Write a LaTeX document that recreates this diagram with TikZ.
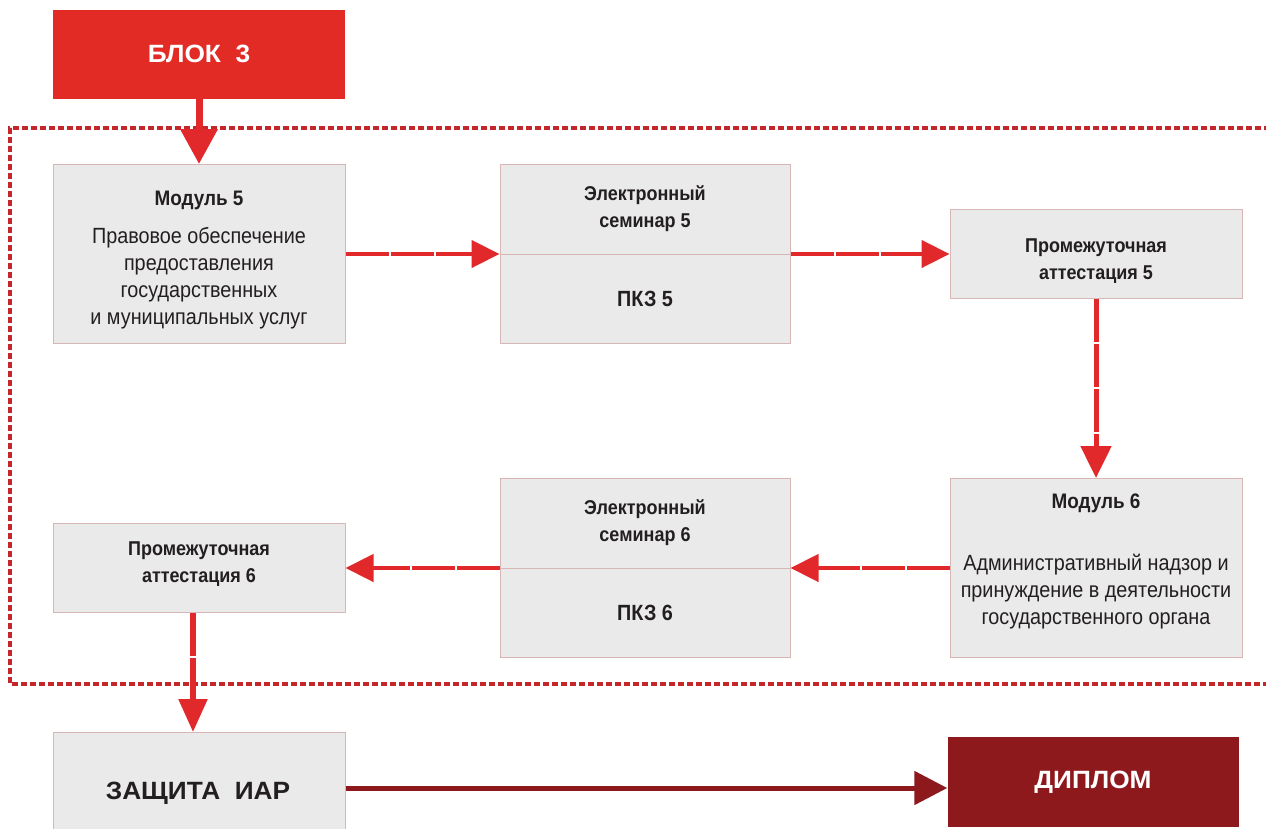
\documentclass[tikz,border=0pt]{standalone}
\usepackage{fontspec}
\setmainfont{Liberation Sans}[FakeStretch=0.9]
\newfontfamily\widefont{Liberation Sans}[FakeStretch=1.05]
\usetikzlibrary{positioning,arrows.meta}
\definecolor{blokred}{HTML}{E32B26}
\definecolor{arrred}{HTML}{E1282A}
\definecolor{framered}{HTML}{C4262A}
\definecolor{dipred}{HTML}{8E191D}
\definecolor{boxgray}{HTML}{EAEAEA}
\definecolor{boxline}{HTML}{D9B6B6}
\definecolor{txt}{HTML}{231F20}

\begin{document}
\begin{tikzpicture}[x=1pt,y=-1pt]
  \tikzstyle{box}=[rectangle, fill=boxgray, draw=boxline, line width=1pt, minimum width=292pt, minimum height=179pt, inner sep=0pt, text=txt, align=center]
  \tikzstyle{esbox}=[box, minimum width=290pt]
  \tikzstyle{smallbox}=[box, minimum height=89pt]
  \tikzstyle{redbox}=[rectangle, minimum width=292pt, minimum height=89pt, text=white, font=\widefont\fontsize{25}{28}\selectfont\bfseries]
  \tikzstyle{ttl}=[font=\fontsize{20}{27}\selectfont\bfseries, text=txt, align=center]
  \tikzstyle{connect}=[-{Triangle[length=28pt,width=27pt]}, line width=4.5pt, draw=arrred, dash pattern=on 43pt off 2pt]
  \tikzstyle{frame}=[draw=framered, line width=3.2pt, dash pattern=on 6pt off 3pt]
  \useasboundingbox (0,0) rectangle (1266,828);
  \fill[white] (0,0) rectangle (1266,828);
  \draw[frame] (1270,128) -- (10,128) -- (10,684) -- (1270,684);
    \node[box] (mod5) at (199,254) {};
    \node[esbox] (es5) [right=154pt of mod5] {};
    \node[smallbox] (pa5) [right=159pt of es5] {};
    \node[box] (mod6) [below=179pt of pa5] {};
    \node[esbox] (es6) [left=159pt of mod6] {};
    \node[smallbox] (pa6) [left=154pt of es6] {};
    \node[box, minimum height=108pt] (zas) [below=119pt of pa6] {};
    \node[redbox, fill=blokred] (blok) [above=65pt of mod5] {БЛОК\ \ 3};
    \node[redbox, fill=dipred, minimum width=291pt, minimum height=90pt] (dip) at (1093,782) {ДИПЛОМ};
    \draw[boxline, line width=1pt] (es5.west) -- (es5.east);
    \draw[boxline, line width=1pt] (es6.west) -- (es6.east);
    % texts
    \node[ttl, font=\fontsize{21}{27}\selectfont\bfseries] at (199,260) {Модуль 5\\[11pt]
      {\fontsize{22}{27.3}\mdseries\selectfont Правовое обеспечение}\\
      {\fontsize{22}{27.3}\mdseries\selectfont предоставления}\\
      {\fontsize{22}{27.3}\mdseries\selectfont государственных}\\
      {\fontsize{22}{27.3}\mdseries\selectfont и муниципальных услуг}};
    \path (es5.north) -- (es5.center) node[midway, ttl] {Электронный\\семинар 5};
    \path (es5.center) -- (es5.south) node[midway, ttl, font=\fontsize{22}{27}\selectfont\bfseries] {ПКЗ 5};
    \node[ttl] at ([yshift=-7pt]pa5.center) {Промежуточная\\аттестация 5};
    \node[ttl, font=\fontsize{21}{27}\selectfont\bfseries] at (1096,561.5) {Модуль 6\\[34.5pt]
      {\fontsize{22}{27.5}\mdseries\selectfont Административный надзор и}\\
      {\fontsize{22}{27.5}\mdseries\selectfont принуждение в деятельности}\\
      {\fontsize{22}{27.5}\mdseries\selectfont государственного органа}};
    \path (es6.north) -- (es6.center) node[midway, ttl] {Электронный\\семинар 6};
    \path (es6.center) -- (es6.south) node[midway, ttl, font=\fontsize{22}{27}\selectfont\bfseries] {ПКЗ 6};
    \node[ttl] at ([yshift=4pt]pa6.center) {Промежуточная\\аттестация 6};
    \node[text=txt, font=\widefont\fontsize{25}{28}\selectfont\bfseries] at (198,793) {ЗАЩИТА\ \ ИАР};
    % arrows
    \draw[connect, dash pattern=, line width=7pt, -{Triangle[length=35pt,width=36pt]}] (blok) -- (mod5);
    \draw[connect] (mod5) -- (es5);
    \draw[connect] (es5) -- (pa5);
    \draw[connect, line width=5pt, -{Triangle[length=32pt,width=30pt]}] (pa5) -- (mod6);
    \draw[connect] (mod6) -- (es6);
    \draw[connect] (es6) -- (pa6);
    \draw[connect, line width=5.5pt, -{Triangle[length=33pt,width=28pt]}] ([xshift=-6pt]pa6.south) -- ([xshift=-6pt]zas.north);
    \draw[connect, draw=dipred, dash pattern=, line width=5pt, -{Triangle[length=33pt,width=33pt]}] (zas.east |- 0,788) -- (dip.west |- 0,788);
\end{tikzpicture}
\end{document}
